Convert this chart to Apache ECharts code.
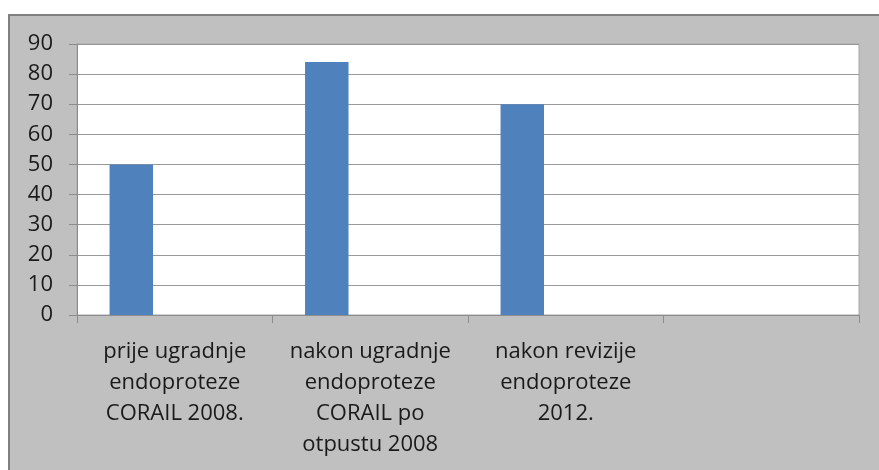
<!DOCTYPE html>
<html>
<head>
<meta charset="utf-8">
<script src="https://cdn.jsdelivr.net/npm/echarts@6/dist/echarts.min.js"></script>
<style>
html,body{margin:0;padding:0;background:#fff;}
#box{position:absolute;left:8px;top:14px;width:871px;height:456px;border-top:2px solid #808080;border-left:2px solid #808080;box-sizing:border-box;}
#chart{width:100%;height:100%;}
</style>
</head>
<body>
<div id="box"><div id="chart"></div></div>
<script>
// kategorije (s prijelomima redaka kao na slici)
var categories = [
    'prije ugradnje\nendoproteze\nCORAIL 2008.',
    'nakon ugradnje\nendoproteze\nCORAIL po\notpustu 2008',
    'nakon revizije\nendoproteze\n2012.',
    ''
];
var values = [50, 84, 70, null];
var emptyA = [null, null, null, null];
var emptyB = [null, null, null, null];
var yTicks = [0, 90, 10]; // min, max, interval

var myChart = echarts.init(document.getElementById('chart'));
var option = {
    backgroundColor: '#c0c0c0',
    animation: false,
    grid: {
        left: 67,
        top: 28,
        right: 20,
        bottom: 155,
        show: true,
        backgroundColor: '#fff',
        borderColor: '#a6a6a6',
        borderWidth: 1
    },
    xAxis: {
        type: 'category',
        data: categories,
        axisLine: {lineStyle: {color: '#8c8c8c', width: 1}},
        axisTick: {show: true, length: 8, lineStyle: {color: '#8c8c8c'}},
        axisLabel: {
            color: '#1a1a1a',
            fontFamily: 'Open Sans',
            fontSize: 22,
            lineHeight: 31,
            margin: 21,
            interval: 0
        }
    },
    yAxis: {
        type: 'value',
        min: yTicks[0],
        max: yTicks[1],
        interval: yTicks[2],
        axisLine: {show: true, lineStyle: {color: '#8c8c8c', width: 1}},
        axisTick: {show: true, length: 8, lineStyle: {color: '#8c8c8c'}},
        axisLabel: {
            color: '#1a1a1a',
            fontFamily: 'Open Sans',
            fontSize: 22,
            margin: 24
        },
        splitLine: {lineStyle: {color: '#999', width: 1}}
    },
    series: [
        {type: 'bar', data: values, barGap: 0, barCategoryGap: '33.3%', itemStyle: {color: '#4f81bd'}},
        {type: 'bar', data: emptyA},
        {type: 'bar', data: emptyB}
    ]
};
myChart.setOption(option);
</script>
</body>
</html>
